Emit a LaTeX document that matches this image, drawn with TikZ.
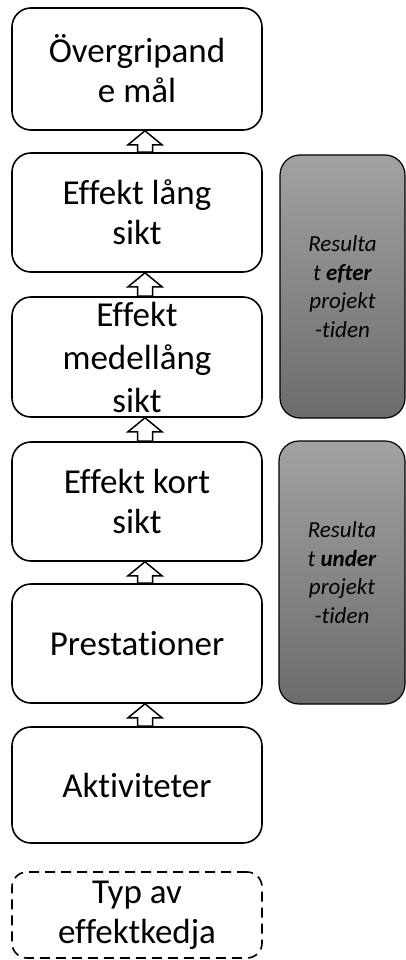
\documentclass[tikz,border=0pt]{standalone}
\usepackage{fontspec}
\setmainfont{Carlito}[Ligatures={NoCommon}]
\usetikzlibrary{calc}
\definecolor{panelTop}{RGB}{162,162,162}
\definecolor{panelBottom}{RGB}{108,108,108}
\tikzset{
  chainbox/.style={draw=black, line width=1.6pt, rounded corners=19pt, fill=white,
    minimum width=250pt, inner sep=0pt, align=center,
    font=\fontsize{35pt}{40pt}\selectfont},
  typebox/.style={chainbox, dash pattern=on 10pt off 6pt, rounded corners=15pt},
  panel/.style={draw=black, line width=1.2pt, rounded corners=20pt,
    top color=panelTop, bottom color=panelBottom, inner sep=0pt, align=center,
    font=\fontsize{23pt}{28.7pt}\selectfont\itshape},
  blockarrow/.style={draw=black, fill=white, line width=1.5pt, line join=miter}
}
% hollow upward block arrow from the top of #1 to the bottom of #2
\newcommand\chainarrow[2]{%
  \draw[blockarrow] (ax |- #2.south) -- ++(17,14) -- ++(-9.5,0)
    -- ($(ax |- #1.north)+(7.5,0)$) -- ++(-15,0)
    -- ($(ax |- #2.south)+(-7.5,14)$) -- ++(-9.5,0) -- cycle;}
\begin{document}
\begin{tikzpicture}[x=1pt,y=-1pt]
\useasboundingbox (0,0) rectangle (406,960);
\coordinate (ax) at (145,0);

\node[chainbox, minimum height=122pt] (goal)  at (137,69)    {Övergripand\\e mål};
\node[chainbox, minimum height=119pt] (long)  at (137,212.5) {Effekt lång\\sikt};
\node[chainbox, minimum height=120pt, font=\fontsize{35pt}{43pt}\selectfont] (mid) at (137,357) {Effekt\\medellång\\sikt};
\node[chainbox, minimum height=119pt] (short) at (137,501.5) {Effekt kort\\sikt};
\node[chainbox, minimum height=119pt] (out)   at (137,643.5) {Prestationer};
\node[chainbox, minimum height=116pt] (act)   at (137,785)   {Aktiviteter};
\node[typebox,  minimum height=86pt]  (type)  at (137,915)   {Typ av\\effektkedja};

\node[panel, minimum width=125pt, minimum height=263pt] (after)  at (342.5,286.5)
  {Resulta\\t \textbf{efter}\\projekt\\-tiden};
\node[panel, minimum width=126pt, minimum height=263pt] (during) at (342,572.5)
  {Resulta\\t \textbf{under}\\projekt\\-tiden};

\chainarrow{long}{goal}
\chainarrow{mid}{long}
\chainarrow{short}{mid}
\chainarrow{out}{short}
\chainarrow{act}{out}
\end{tikzpicture}
\end{document}
